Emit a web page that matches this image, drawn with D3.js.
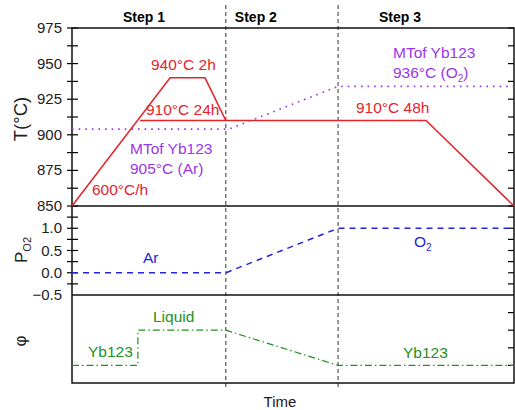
<!DOCTYPE html>
<html>
<head>
<meta charset="utf-8">
<script src="https://cdn.jsdelivr.net/npm/d3@7"></script>
<style>
  body { margin: 0; background: #fff; }
  svg { font-family: "Liberation Sans", Arial, sans-serif; }
</style>
</head>
<body>
<div id="chart"></div>
<script>
// data (time is in arbitrary units 0..100)
const tempTime = [0, 22.2, 30.1, 34.8, 80.1, 100];
const tempVal = [850, 940, 940, 910, 910, 850];
const holdTime = [15.4, 34.8];
const holdVal = [910, 910];
const meltTime = [0, 35.5, 60.2, 100];
const meltVal = [904, 904, 934, 934];
const pTime = [0, 34.8, 60.2, 100];
const pVal = [0, 0, 1, 1];
const phiTime = [0, 14.9, 14.9, 34.8, 60.2, 100];
const phiVal = [0.2, 0.2, 0.6, 0.6, 0.2, 0.2];
const stepBounds = [34.8, 60.2];
const stepNames = ["Step 1", "Step 2", "Step 3"];
const stepCenters = [16.3, 41.6, 74.2];
const tTicks = [850, 875, 900, 925, 950, 975];
const pTicks = [-0.5, 0.0, 0.5, 1.0];

const width = 515, height = 410;
const left = 72, right = 514;

const svg = d3.select("#chart").append("svg")
    .attr("width", width)
    .attr("height", height);

const x = d3.scaleLinear().domain([0, 100]).range([left, right]);
const yT = d3.scaleLinear().domain([850, 975]).range([206, 28]);
const yP = d3.scaleLinear().domain([-0.5, 1.5]).range([295, 206]);
const yPhi = d3.scaleLinear().domain([0, 1]).range([383, 295]);

const red = "#e3242b", purple = "#9b35e8", blue = "#2424d6", green = "#219221";

function pts(xs, ys) { return xs.map((t, i) => [t, ys[i]]); }

// step dividers
svg.selectAll(".step-line")
    .data(stepBounds)
    .join("line")
    .attr("x1", d => x(d)).attr("x2", d => x(d))
    .attr("y1", 5).attr("y2", 387)
    .attr("stroke", "#333")
    .attr("stroke-width", 1)
    .attr("stroke-dasharray", "4,3");

// step labels
svg.selectAll(".step-label")
    .data(stepNames)
    .join("text")
    .attr("x", (d, i) => x(stepCenters[i]))
    .attr("y", 22)
    .attr("text-anchor", "middle")
    .attr("font-size", "14px")
    .attr("font-weight", "bold")
    .text(d => d);

// ticks on left (crossing) and right (inward)
function ticks(scale, vals, withLeft, labels, fmt) {
    vals.forEach(v => {
        const yy = scale(v);
        if (withLeft) {
            svg.append("line").attr("x1", left - 5).attr("x2", left + 6)
                .attr("y1", yy).attr("y2", yy).attr("stroke", "#000").attr("stroke-width", 1.2);
        }
        svg.append("line").attr("x1", right - 6).attr("x2", right)
            .attr("y1", yy).attr("y2", yy).attr("stroke", "#000").attr("stroke-width", 1.2);
    });
    if (labels) {
        svg.selectAll(null)
            .data(labels)
            .join("text")
            .attr("x", left - 10)
            .attr("y", d => scale(d) + 5)
            .attr("text-anchor", "end")
            .attr("font-size", "15px")
            .attr("fill", "#222")
            .text(fmt);
    }
}
ticks(yT, d3.range(850, 976, 12.5), true, tTicks, d => d);
ticks(yP, d3.range(-0.5, 1.51, 0.25).filter(v => v > -0.5 && v < 1.5), true, pTicks, d3.format(".1f"));
ticks(yPhi, [0.2, 0.4, 0.6, 0.8], false, null, null);

// frame
svg.append("rect")
    .attr("x", left).attr("y", yT(975))
    .attr("width", right - left).attr("height", yPhi(0) - yT(975))
    .attr("fill", "none").attr("stroke", "#111").attr("stroke-width", 1.5);
[yT(850), yP(-0.5)].forEach(yy => {
    svg.append("line").attr("x1", left).attr("x2", right)
        .attr("y1", yy).attr("y2", yy).attr("stroke", "#111").attr("stroke-width", 1.5);
});

// temperature
const lineT = d3.line().x(d => x(d[0])).y(d => yT(d[1]));
svg.append("path").attr("d", lineT(pts(tempTime, tempVal)))
    .attr("fill", "none").attr("stroke", red).attr("stroke-width", 1.5);
svg.append("path").attr("d", lineT(pts(holdTime, holdVal)))
    .attr("fill", "none").attr("stroke", red).attr("stroke-width", 1.5);
svg.append("path").attr("d", lineT(pts(meltTime, meltVal)))
    .attr("fill", "none").attr("stroke", purple).attr("stroke-width", 1.6)
    .attr("stroke-dasharray", "1.6,5");

// P_O2
const lineP = d3.line().x(d => x(d[0])).y(d => yP(d[1]));
svg.append("path").attr("d", lineP(pts(pTime, pVal)))
    .attr("fill", "none").attr("stroke", blue).attr("stroke-width", 1.5)
    .attr("stroke-dasharray", "6,5");

// phi
const linePhi = d3.line().x(d => x(d[0])).y(d => yPhi(d[1]));
svg.append("path").attr("d", linePhi(pts(phiTime, phiVal)))
    .attr("fill", "none").attr("stroke", green).attr("stroke-width", 1.2)
    .attr("stroke-dasharray", "7,3,1.5,3");

// annotations
function note(tx, ty, txt, color, sub) {
    const t = svg.append("text").attr("x", tx).attr("y", ty)
        .attr("font-size", "15.5px").attr("fill", color);
    t.append("tspan").text(txt);
    if (sub) {
        t.append("tspan").attr("font-size", "10px").attr("dy", 4).text(sub);
    }
    return t;
}
note(151, 70, "940°C 2h", red);
note(146, 115, "910°C 24h", red);
note(92, 195, "600°C/h", red);
note(356, 113, "910°C 48h", red);
note(130, 154, "MTof Yb123", purple);
note(130, 174, "905°C (Ar)", purple);
note(393, 58, "MTof Yb123", purple);
const o2 = note(393, 78, "936°C (O", purple, "2");
o2.append("tspan").attr("dy", -4).text(")");
note(143, 263, "Ar", blue);
note(414, 247, "O", blue, "2");
note(153, 322, "Liquid", green);
note(88, 357, "Yb123", green);
note(403, 358, "Yb123", green);

// axis titles
svg.append("text")
    .attr("transform", "translate(27,119) rotate(-90)")
    .attr("text-anchor", "middle").attr("font-size", "18.5px").attr("fill", "#222")
    .text("T(°C)");
const pl = svg.append("text")
    .attr("transform", "translate(27,250) rotate(-90)")
    .attr("text-anchor", "middle").attr("font-size", "17px").attr("fill", "#222");
pl.append("tspan").text("P");
pl.append("tspan").attr("font-size", "11px").attr("dy", 4).text("O2");
svg.append("text")
    .attr("transform", "translate(26,341) rotate(-90)")
    .attr("text-anchor", "middle").attr("font-size", "17px").attr("fill", "#222")
    .text("φ");
svg.append("text")
    .attr("x", 280).attr("y", 407)
    .attr("text-anchor", "middle").attr("font-size", "15px").attr("fill", "#222")
    .text("Time");
</script>
</body>
</html>
